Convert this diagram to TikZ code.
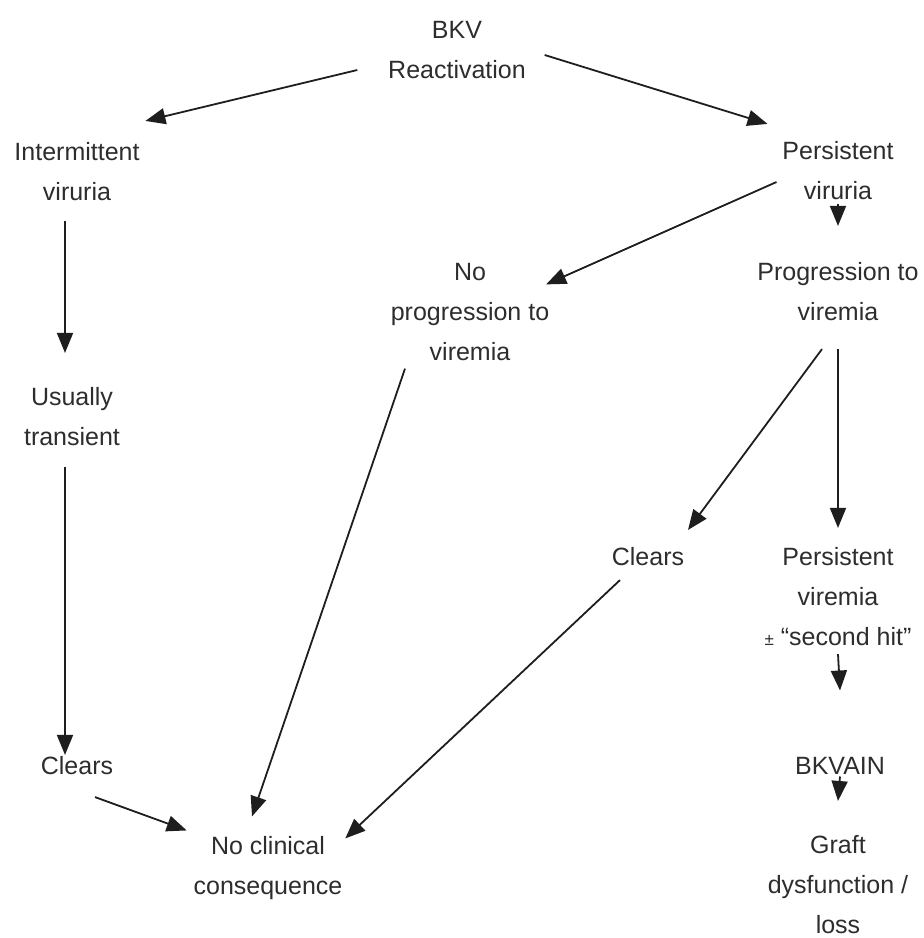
\documentclass[tikz,border=0pt]{standalone}
\usepackage{fontspec}
\setmainfont{Liberation Sans}
\usepackage{tikz}
\usetikzlibrary{arrows.meta}
\definecolor{ink}{RGB}{30, 30, 30}
\definecolor{textgray}{RGB}{45, 45, 45}

\begin{document}
\begin{tikzpicture}[x=1pt, y=1pt, line width=1.8pt,
    stage/.style={align=center, inner sep=0pt, text=textgray,
      font=\fontsize{25}{40}\selectfont},
    arr/.style={draw=ink, -{Triangle[length=20pt, width=16pt]}}]
  \useasboundingbox (0, 0) rectangle (924, -938);

  \node[stage] (top) at (457, -50) {BKV\\Reactivation};
  \node[stage] (int) at (77, -172) {Intermittent\\viruria};
  \node[stage] (pers) at (838, -171) {Persistent\\viruria};
  \node[stage] (nopro) at (470, -312) {No\\progression to\\viremia};
  \node[stage] (pro) at (838, -292) {Progression to\\viremia};
  \node[stage] (usual) at (72, -417) {Usually\\transient};
  \node[stage] (clr2) at (648, -557) {Clears};
  \node[stage] (pvir) at (838, -597) {Persistent\\viremia\\{\fontsize{17}{40}\selectfont ±} ``second hit''};
  \node[stage] (clr1) at (77, -766) {Clears};
  \node[stage] (bkv) at (840, -766) {BKVAIN};
  \node[stage] (nocl) at (268, -868) {No clinical\\consequence};
  \node[stage] (graft) at (838, -885) {Graft\\dysfunction /\\loss};

  \draw[arr] ([xshift=-30pt, yshift=-20pt]top.west) -- ([xshift=5pt, yshift=21pt]int.north east);
  \draw[arr] ([xshift=18pt, yshift=-5pt]top.east) -- ([xshift=-14pt, yshift=17pt]pers.north west);
  \draw[arr] ([xshift=-5pt, yshift=-11pt]pers.west) -- ([xshift=-4pt, yshift=-22pt]nopro.north east);
  \draw[arr] ([yshift=-3pt]pers.south) -- ([yshift=36pt]pro.north);
  \draw[arr] ([xshift=-12pt, yshift=-19pt]int.south) -- ([xshift=-7pt, yshift=34pt]usual.north);
  \draw[arr] ([xshift=-16pt, yshift=-27pt]pro.south) -- ([xshift=3pt, yshift=17pt]clr2.north east);
  \draw[arr] ([yshift=-27pt]pro.south) -- ([yshift=19pt]pvir.north);
  \draw[arr] ([xshift=-65pt, yshift=-7pt]nopro.south) -- ([xshift=-16pt, yshift=19pt]nocl.north);
  \draw[arr] ([xshift=-7pt, yshift=-20pt]usual.south) -- ([xshift=-12pt, yshift=1pt]clr1.north);
  \draw[arr] ([xshift=9pt, yshift=-13pt]clr2.south west) -- ([xshift=2pt, yshift=-3pt]nocl.north east);
  \draw[arr] ([yshift=-7pt]pvir.south) -- ([yshift=66pt]bkv.north);
  \draw[arr] ([xshift=18pt, yshift=-21pt]clr1.south) -- ([xshift=-6pt, yshift=5pt]nocl.north west);
  \draw[arr] ([yshift=-1pt]bkv.south) -- ([yshift=34pt]graft.north);
\end{tikzpicture}
\end{document}
